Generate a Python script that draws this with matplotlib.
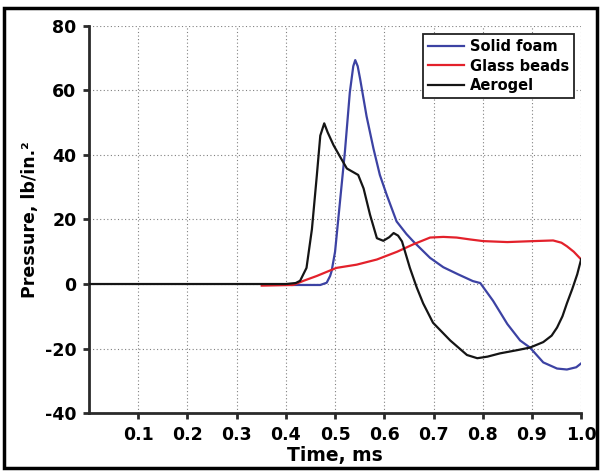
import matplotlib
matplotlib.use("Agg")
import matplotlib.pyplot as plt
from matplotlib.patches import Rectangle

# Data (time in ms, pressure in lb/in.^2)
foam_t = [0.412, 0.47, 0.483, 0.490, 0.493, 0.5, 0.51, 0.52, 0.53, 0.537, 0.541,
          0.546, 0.551, 0.564, 0.578, 0.591, 0.605, 0.625, 0.645, 0.659, 0.693,
          0.72, 0.75, 0.78, 0.795, 0.821, 0.85, 0.876, 0.896, 0.923, 0.951,
          0.971, 0.99, 1.0]
foam_p = [-0.3, -0.3, 0.4, 2.5, 4, 10, 25.5, 41, 59.4, 67.5, 69.4,
          67.5, 63.5, 52, 42, 33.8, 27.6, 19.4, 15.5, 13.2, 8.1,
          5.2, 3, 0.9, 0.3, -5.2, -12.4, -17.5, -19.7, -24.3, -26.2,
          -26.5, -25.8, -24.6]

beads_t = [0.351, 0.415, 0.436, 0.463, 0.49, 0.503, 0.544, 0.585, 0.626, 0.659,
           0.693, 0.72, 0.747, 0.775, 0.801, 0.85, 0.903, 0.943, 0.96, 0.971,
           0.985, 1.0]
beads_p = [-0.5, -0.3, 1, 2.5, 4.2, 5, 6, 7.6, 10, 12.3,
           14.4, 14.6, 14.4, 13.8, 13.3, 13, 13.3, 13.5, 12.8, 11.7,
           10, 7.6]

aero_t = [0, 0.40, 0.42, 0.429, 0.442, 0.453, 0.463, 0.470, 0.478, 0.485,
          0.497, 0.51, 0.524, 0.547, 0.558, 0.571, 0.585, 0.598, 0.61, 0.619,
          0.628, 0.636, 0.652, 0.666, 0.679, 0.699, 0.734, 0.768, 0.789, 0.81,
          0.835, 0.87, 0.896, 0.923, 0.94, 0.951, 0.962, 0.971, 0.982, 0.992, 1.0]
aero_p = [0, 0, 0.3, 1, 5, 17, 33.7, 46, 49.8, 47,
          43, 39.5, 35.8, 33.8, 29.6, 21.5, 14.2, 13.4, 14.5, 15.8,
          15, 13.2, 5, -1.1, -6, -12, -17.5, -22, -23, -22.5,
          -21.5, -20.5, -19.7, -18, -16, -13.5, -10, -6, -1.5, 3, 7.7]

x_ticks = [0.1, 0.2, 0.3, 0.4, 0.5, 0.6, 0.7, 0.8, 0.9, 1.0]
y_ticks = [-40, -20, 0, 20, 40, 60, 80]

plt.rcParams['font.family'] = 'DejaVu Sans'
plt.rcParams['font.weight'] = 'bold'
plt.rcParams['axes.unicode_minus'] = False

fig = plt.figure(figsize=(6.01, 4.71), dpi=100)
ax = fig.add_axes([0.148, 0.123, 0.819, 0.822])

ax.plot(foam_t, foam_p, color='#3c42a3', lw=1.6, label='Solid foam', zorder=3)
ax.plot(beads_t, beads_p, color='#e3212b', lw=1.6, label='Glass beads', zorder=3)
ax.plot(aero_t, aero_p, color='#151515', lw=1.6, label='Aerogel', zorder=4)

ax.set_xlim(0, 1.0)
ax.set_ylim(-40, 80)
ax.set_xticks(x_ticks)
ax.set_xticklabels([f"{v:.1f}" for v in x_ticks])
ax.set_yticks(y_ticks)

ax.grid(True, linestyle=(0, (1, 2.2)), color='#808080', lw=0.8)
for s in ['top', 'right']:
    ax.spines[s].set_visible(False)
for s in ['left', 'bottom']:
    ax.spines[s].set_linewidth(2)
    ax.spines[s].set_color('#2a2a2a')
ax.tick_params(axis='both', direction='out', length=4, width=2, color='#2a2a2a',
               labelsize=12.5, pad=5)
for lbl in ax.get_xticklabels() + ax.get_yticklabels():
    lbl.set_fontweight('bold')

ax.set_xlabel("Time, ms", fontsize=13.5, fontweight='bold', labelpad=2)
ax.set_ylabel("Pressure, lb/in.²", fontsize=12.5, fontweight='bold', labelpad=4)

leg = ax.legend(loc='upper right', bbox_to_anchor=(0.986, 0.979), fancybox=False,
                edgecolor='#222222', framealpha=1, handlelength=2.5,
                prop={'weight': 'bold', 'size': 10.5}, borderpad=0.35,
                labelspacing=0.3, handletextpad=0.4, borderaxespad=0)
leg.get_frame().set_linewidth(1.3)

fig.patches.append(Rectangle((0.007, 0.006), 0.986, 0.977, transform=fig.transFigure,
                             fill=False, edgecolor='black', lw=2.5))

fig.savefig("out.png", dpi=100)
